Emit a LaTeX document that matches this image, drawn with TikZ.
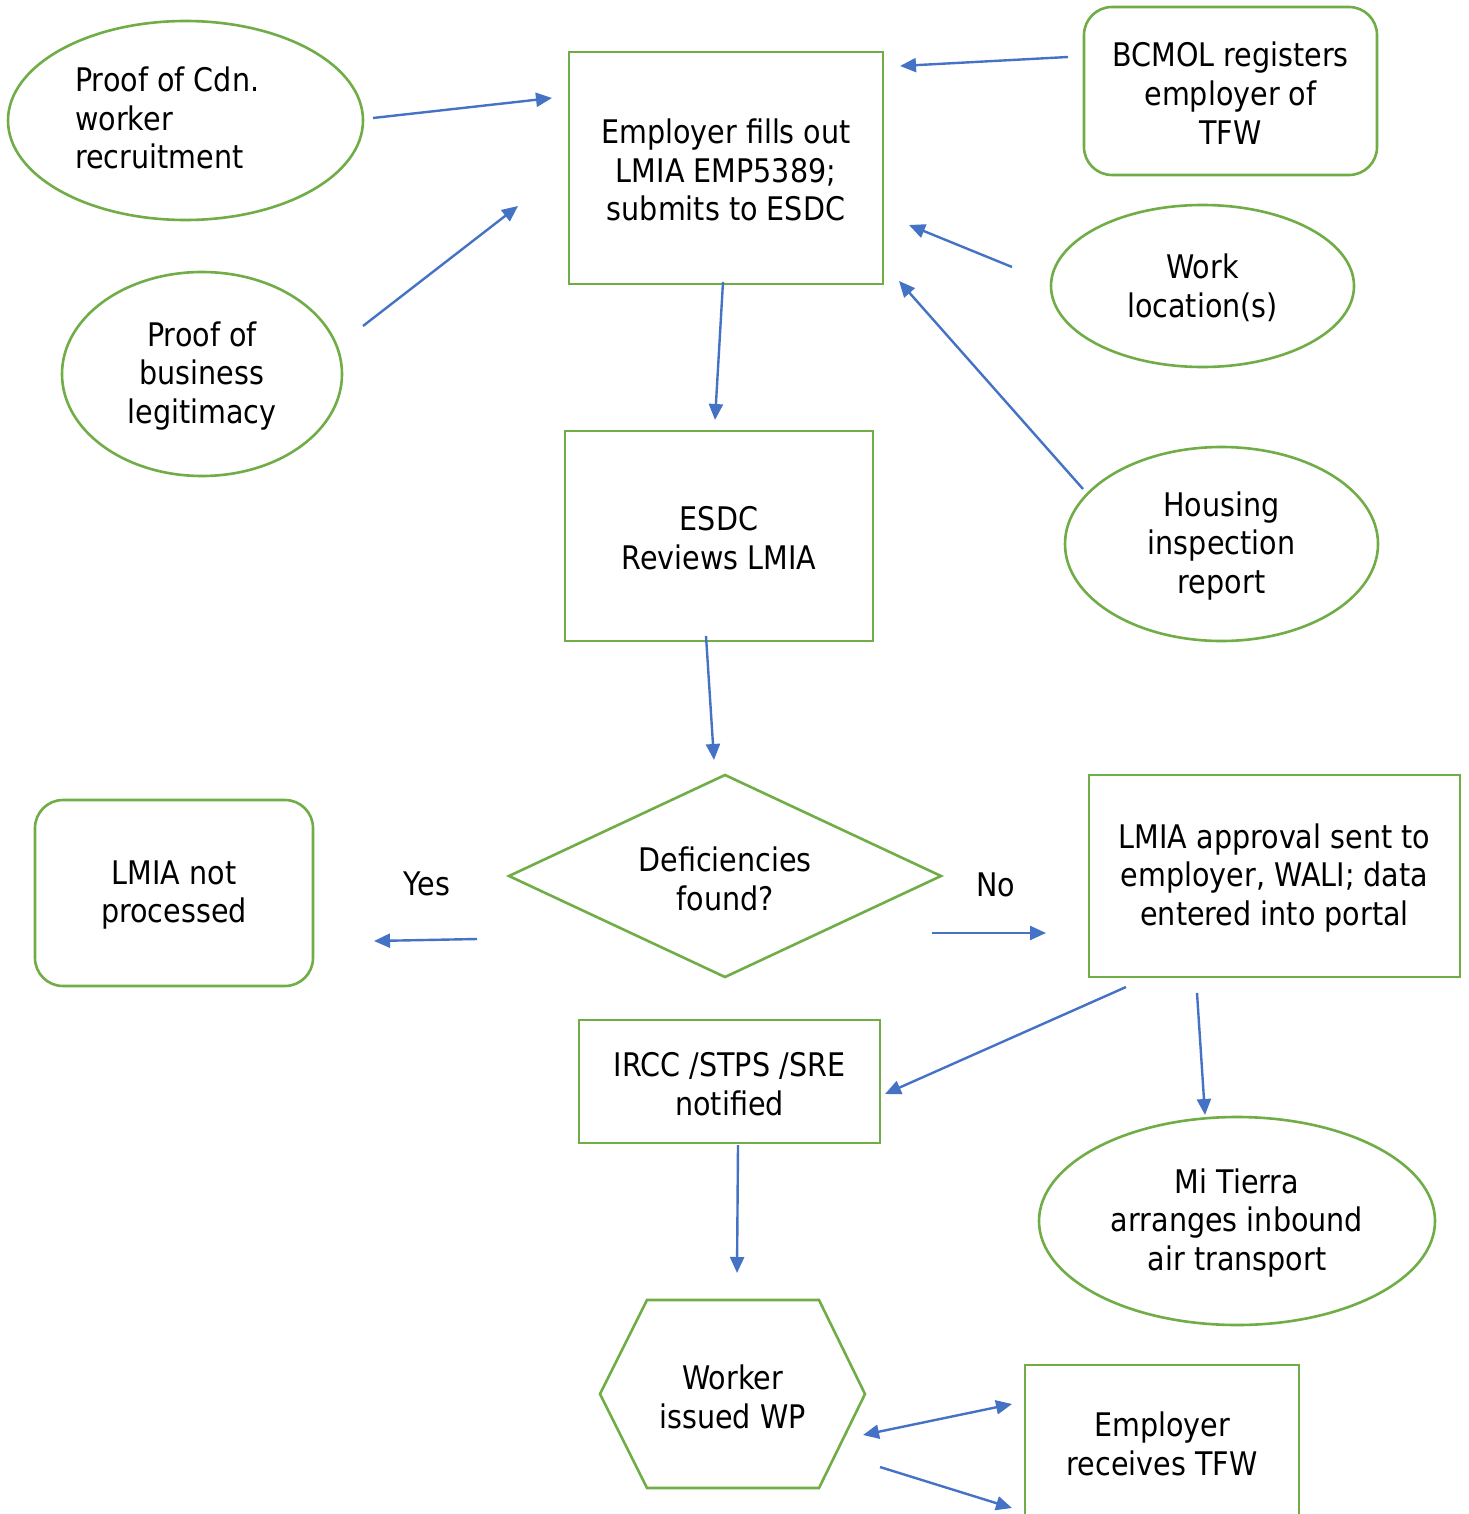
\documentclass[tikz,border=0pt]{standalone}
\usepackage{fontspec}
\setmainfont{DejaVu Sans}[FakeStretch=0.88]
\usetikzlibrary{shapes.geometric,arrows.meta}
\definecolor{grn}{HTML}{70AD47}
\definecolor{blu}{HTML}{4472C4}
\begin{document}
\begin{tikzpicture}[x=1pt,y=-1pt,
  every node/.style={font=\fontsize{32.5}{38.8}\selectfont, inner sep=0pt, align=center},
  box/.style={draw=grn, line width=2.6pt, rectangle},
  rbox/.style={box, rounded corners=28pt},
  oval/.style={draw=grn, line width=2.6pt, ellipse},
  arr/.style={draw=blu, line width=2.4pt, -{Triangle[length=16pt,width=14pt]}},
  darr/.style={draw=blu, line width=2.4pt, {Triangle[length=16pt,width=14pt]}-{Triangle[length=16pt,width=14pt]}}]
\clip (0,0) rectangle (1468,1514);
\fill[white] (0,0) rectangle (1468,1514);

% nodes
\node[oval, minimum width=355, minimum height=199] (cdn) at (185.5,120.5) {};
\node[align=left, anchor=west] (cdnt) at (75,118) {Proof of Cdn.\\worker\\recruitment};
\node[box, minimum width=314, minimum height=232] (fill) at (726,168) {};
\node (fillt) at (726,170) {Employer fills out\\LMIA EMP5389;\\submits to ESDC};
\node[rbox, minimum width=293, minimum height=168] (bcmol) at (1230.5,91) {};
\node (bcmolt) at (1230.5,93) {BCMOL registers\\employer of\\TFW};
\node[oval, minimum width=280, minimum height=204] (bus) at (202,374) {};
\node (bust) at (202,376) {Proof of\\business\\legitimacy};
\node[oval, minimum width=303, minimum height=162] (work) at (1202.5,286) {};
\node (workt) at (1202.5,288) {Work\\location(s)};
\node[box, minimum width=308, minimum height=210] (esdc) at (719,536) {};
\node (esdct) at (719,538) {ESDC\\Reviews LMIA};
\node[oval, minimum width=313, minimum height=194] (house) at (1221.5,544) {};
\node (houset) at (1221.5,546) {Housing\\inspection\\report};
\draw[draw=grn, line width=2.6pt] (509,876) coordinate (dl) -- (725,775) coordinate (dt) -- (941,876) coordinate (dr) -- (725,977) coordinate (db) -- cycle;
\node (def) at (725,879) {Deficiencies\\found?};
\node[rbox, minimum width=278, minimum height=186] (notp) at (174,893) {};
\node (notpt) at (174,895) {LMIA not\\processed};
\node[box, minimum width=371, minimum height=202] (appr) at (1274.5,876) {};
\node (apprt) at (1274.5,878) {LMIA approval sent to\\employer, WALI; data\\entered into portal};
\node (yes) at (427,884) {Yes};
\node (no) at (996,885) {No};
\node[box, minimum width=301, minimum height=123] (ircc) at (729.5,1081.5) {};
\node (ircct) at (729.5,1084) {IRCC /STPS /SRE\\notified};
\node[oval, minimum width=396, minimum height=208] (tierra) at (1237,1221) {};
\node (tierrat) at (1237,1223) {Mi Tierra\\arranges inbound\\air transport};
\draw[draw=grn, line width=2.6pt] (600,1394) -- (647,1300) -- (819,1300) -- (865,1394) -- (819,1488) -- (647,1488) -- cycle;
\node (wp) at (732.5,1397) {Worker\\issued WP};
\node[box, minimum width=274, minimum height=156] (recv) at (1162,1443) {};
\node (recvt) at (1162,1444) {Employer\\receives TFW};

% connector end points
\coordinate (a1s) at (373,118); \coordinate (a1e) at (552,98);
\coordinate (a2s) at (363,326); \coordinate (a2e) at (518,206);
\coordinate (a3s) at (1068,57); \coordinate (a3e) at (900,66);
\coordinate (a4s) at (1012,267); \coordinate (a4e) at (909,225);
\coordinate (a5s) at (1083,489); \coordinate (a5e) at (899,281);
\coordinate (a6s) at (723,282); \coordinate (a6e) at (715,420);
\coordinate (a7s) at (706,636); \coordinate (a7e) at (714,760);
\coordinate (a8s) at (477,939); \coordinate (a8e) at (374,941);
\coordinate (a9s) at (932,933); \coordinate (a9e) at (1046,933);
\coordinate (a10s) at (1126,987); \coordinate (a10e) at (885,1094);
\coordinate (a11s) at (1197,993); \coordinate (a11e) at (1205,1115);
\coordinate (a12s) at (738,1145); \coordinate (a12e) at (737,1273);
\coordinate (a13s) at (863,1435); \coordinate (a13e) at (1012,1404);
\coordinate (a14s) at (880,1467); \coordinate (a14e) at (1012,1508);

\draw[arr] (a1s) -- (a1e);
\draw[arr] (a2s) -- (a2e);
\draw[arr] (a3s) -- (a3e);
\draw[arr] (a4s) -- (a4e);
\draw[arr] (a5s) -- (a5e);
\draw[arr] (a6s) -- (a6e);
\draw[arr] (a7s) -- (a7e);
\draw[arr] (a8s) -- (a8e);
\draw[arr] (a9s) -- (a9e);
\draw[arr] (a10s) -- (a10e);
\draw[arr] (a11s) -- (a11e);
\draw[arr] (a12s) -- (a12e);
\draw[darr] (a13s) -- (a13e);
\draw[arr] (a14s) -- (a14e);
\end{tikzpicture}
\end{document}
